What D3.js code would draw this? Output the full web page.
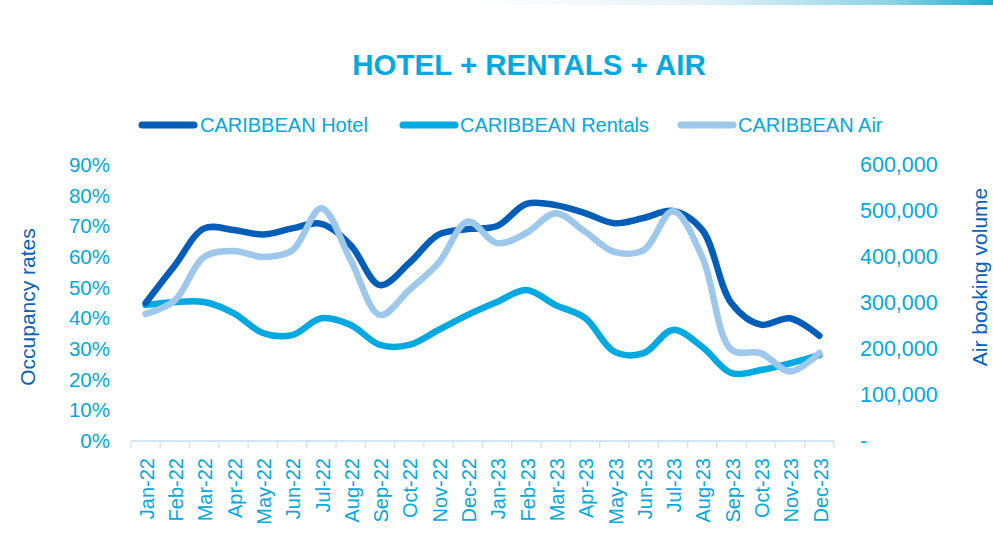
<!DOCTYPE html>
<html>
<head>
<meta charset="utf-8">
<script src="https://cdn.jsdelivr.net/npm/d3@7/dist/d3.min.js"></script>
<style>
  html, body { margin: 0; padding: 0; background: #fff; }
  svg { display: block; }
  text { font-family: "Liberation Sans", Arial, sans-serif; }
</style>
</head>
<body>
<svg id="chart" width="993" height="544"></svg>
<script>
// ---- data ----
const months = ["Jan-22","Feb-22","Mar-22","Apr-22","May-22","Jun-22","Jul-22","Aug-22","Sep-22","Oct-22","Nov-22","Dec-22",
                "Jan-23","Feb-23","Mar-23","Apr-23","May-23","Jun-23","Jul-23","Aug-23","Sep-23","Oct-23","Nov-23","Dec-23"];
const hotel   = [0.447,0.57,0.69,0.685,0.67,0.69,0.705,0.635,0.505,0.577,0.67,0.688,
                 0.698,0.77,0.766,0.74,0.707,0.724,0.747,0.685,0.446,0.376,0.397,0.34];
const rentals = [0.44,0.45,0.45,0.414,0.349,0.342,0.397,0.375,0.31,0.31,0.359,0.408,
                 0.45,0.489,0.44,0.398,0.288,0.283,0.359,0.304,0.218,0.228,0.25,0.277];
const air     = [274000,304000,398000,411000,398000,412000,504000,391000,272000,326000,385000,475000,
                 428000,450000,493000,453000,409000,413000,498000,398000,196000,189000,149000,189000];
const leftTicks  = [0,0.1,0.2,0.3,0.4,0.5,0.6,0.7,0.8,0.9];
const rightTicks = [0,100000,200000,300000,400000,500000,600000];
const seriesNames = ["CARIBBEAN Hotel","CARIBBEAN Rentals","CARIBBEAN Air"];
const seriesColors = ["#005EB8","#00A9E0","#9DC8EB"];

const svg = d3.select("#chart");
const tickColor = "#00A9E0";
const titleColor = "#0562BA";

// top gradient band
const defs = svg.append("defs");
const grad = defs.append("linearGradient").attr("id","topgrad").attr("x1","0").attr("x2","1");
grad.append("stop").attr("offset","0").attr("stop-color","#ffffff");
grad.append("stop").attr("offset","0.45").attr("stop-color","#e3f2f8");
grad.append("stop").attr("offset","0.8").attr("stop-color","#8fd3e6");
grad.append("stop").attr("offset","1").attr("stop-color","#22AECD");
svg.append("rect").attr("x",470).attr("y",0).attr("width",523).attr("height",5).attr("fill","url(#topgrad)");

// title
svg.append("text").attr("x",529).attr("y",75).attr("text-anchor","middle")
  .attr("font-size",29.5).attr("font-weight","bold").attr("fill","#00A9E0")
  .text("HOTEL + RENTALS + AIR");

// scales
const x = d3.scaleBand().domain(months).range([131, 834]);
const yL = d3.scaleLinear().domain([0, 0.9]).range([440, 164]);
const yR = d3.scaleLinear().domain([0, 600000]).range([440, 164]);

// left axis
const gL = svg.append("g").attr("transform","translate(110,0)")
  .call(d3.axisLeft(yL).tickValues(leftTicks).tickFormat(d3.format(".0%")).tickSize(0).tickPadding(0));
gL.select(".domain").remove();
gL.selectAll("text").attr("font-size",20.5).attr("fill",tickColor)
  .attr("font-family","'Liberation Sans', Arial, sans-serif").attr("dy","0.36em");

// right axis
const gR = svg.append("g").attr("transform","translate(860,0)")
  .call(d3.axisRight(yR).tickValues(rightTicks).tickFormat(d => d === 0 ? "-" : d3.format(",")(d)).tickSize(0).tickPadding(0));
gR.select(".domain").remove();
gR.selectAll("text").attr("font-size",21.5).attr("fill",tickColor)
  .attr("font-family","'Liberation Sans', Arial, sans-serif").attr("dy","0.36em");

// x axis
const gX = svg.append("g").attr("transform","translate(0,441)");
gX.append("line").attr("x1",131).attr("x2",834).attr("y1",0).attr("y2",0)
  .attr("stroke","#D3E6F8").attr("stroke-width",2);
const bounds = months.map(m => x(m)).concat([x(months[months.length-1]) + x.bandwidth()]);
gX.selectAll("line.tk").data(bounds).join("line").attr("class","tk")
  .attr("x1",d=>d).attr("x2",d=>d).attr("y1",0).attr("y2",7)
  .attr("stroke","#D3E6F8").attr("stroke-width",1.5);
gX.selectAll("text.lb").data(months).join("text").attr("class","lb")
  .attr("transform", d => `translate(${x(d) + x.bandwidth()/2 + 1},17) rotate(-90)`)
  .attr("text-anchor","end").attr("dy","0.36em")
  .attr("font-size",20).attr("fill",tickColor).text(d => d);

// axis titles
svg.append("text").attr("transform","translate(35,307) rotate(-90)")
  .attr("text-anchor","middle").attr("font-size",21).attr("fill",titleColor).text("Occupancy rates");
svg.append("text").attr("transform","translate(987,277) rotate(-90)")
  .attr("text-anchor","middle").attr("font-size",21).attr("fill",titleColor).text("Air booking volume");

// lines
const cx = d => x(d) + x.bandwidth()/2;
const lineL = d3.line().x(d => cx(d.m)).y(d => yL(d.v)).curve(d3.curveCatmullRom.alpha(0.5));
const lineR = d3.line().x(d => cx(d.m)).y(d => yR(d.v)).curve(d3.curveCatmullRom.alpha(0.5));
const toPts = arr => arr.map((v,i) => ({m: months[i], v}));

svg.append("path").attr("d", lineL(toPts(rentals))).attr("fill","none")
  .attr("stroke",seriesColors[1]).attr("stroke-width",6.5).attr("stroke-linecap","round").attr("stroke-linejoin","round");
svg.append("path").attr("d", lineL(toPts(hotel))).attr("fill","none")
  .attr("stroke",seriesColors[0]).attr("stroke-width",6.5).attr("stroke-linecap","round").attr("stroke-linejoin","round");
svg.append("path").attr("d", lineR(toPts(air))).attr("fill","none")
  .attr("stroke",seriesColors[2]).attr("stroke-width",6.5).attr("stroke-linecap","round").attr("stroke-linejoin","round");

// legend
const legendPos = [{lx:139, tx:200},{lx:400, tx:460},{lx:678, tx:738}];
const lg = svg.append("g");
seriesNames.forEach((name,i) => {
  const p = legendPos[i];
  lg.append("line").attr("x1",p.lx+3).attr("x2",p.lx+55).attr("y1",125).attr("y2",125)
    .attr("stroke",seriesColors[i]).attr("stroke-width",7).attr("stroke-linecap","round");
  lg.append("text").attr("x",p.tx).attr("y",125).attr("dy","0.36em")
    .attr("font-size",20).attr("fill",tickColor).text(name);
});
</script>
</body>
</html>
